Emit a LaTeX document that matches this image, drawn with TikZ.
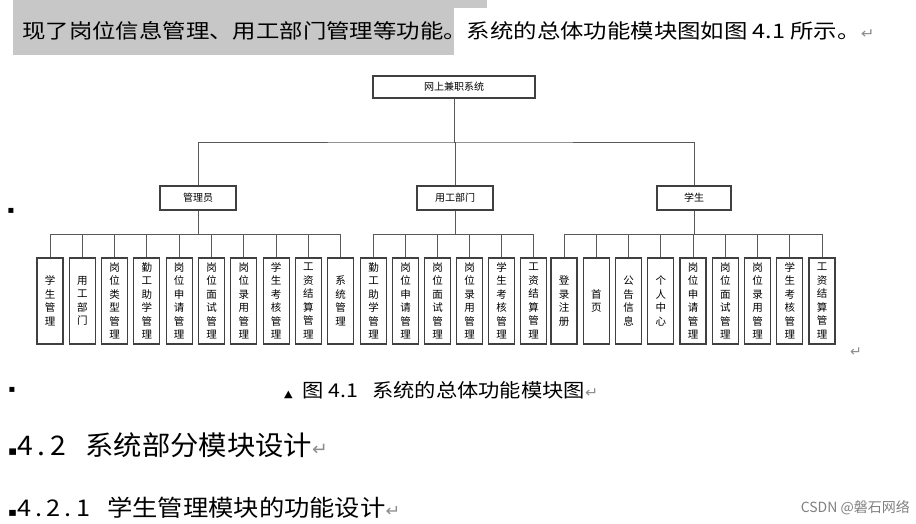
\documentclass[tikz,border=0pt]{standalone}
\usepackage{fontspec}
\setmainfont{Noto Sans CJK SC}
\newfontfamily\dv{DejaVu Sans}
\begin{document}
\begin{tikzpicture}[x=1pt,y=-1pt,
  box/.style={draw=black!75,line width=1.1pt,fill=white,inner sep=0pt,font=\fontsize{10}{12}\selectfont},
  leaf/.style={box,minimum width=26pt,minimum height=86pt,align=center,font=\fontsize{10.5}{13.5}\selectfont},
  conn/.style={draw=black!65,line width=0.9pt}]
\useasboundingbox (0,0) rectangle (916,524);
% highlight
\fill[black!22] (13,0) rectangle (487,8);
\fill[black!22] (13,8) rectangle (454,55);
\node[anchor=west,inner sep=0pt,xscale=1.17,font=\fontsize{20}{24}\selectfont] (para) at (22,31) {现了岗位信息管理、用工部门管理等功能。系统的总体功能模块图如图 4.1 所示。{\dv\color{black!45}\fontsize{14}{16}\selectfont ↵}};
% tree
\node[box,minimum width=162pt,minimum height=22pt] (root) at (454,87) {网上兼职系统};
\node[box,minimum width=76pt,minimum height=24pt] (g1) at (198,198) {管理员};
\node[box,minimum width=76pt,minimum height=24pt] (g2) at (455,198) {用工部门};
\node[box,minimum width=74pt,minimum height=24pt] (g3) at (694,198) {学生};
\coordinate (b) at (454,142);
\draw[conn] (root.south) -- (b);
\draw[conn] (g1.north) |- (b) -| (g3.north);
\draw[conn] (b) -| (g2.north);
\foreach \t [count=\i from 0] in {{学\\生\\管\\理},{用\\工\\部\\门},{岗\\位\\类\\型\\管\\理},{勤\\工\\助\\学\\管\\理},{岗\\位\\申\\请\\管\\理},{岗\\位\\面\\试\\管\\理},{岗\\位\\录\\用\\管\\理},{学\\生\\考\\核\\管\\理},{工\\资\\结\\算\\管\\理},{系\\统\\管\\理}}{
  \node[leaf] (a\i) at (50+32.3*\i,301) {\t};
  \draw[conn] (a\i.north) |- (g1.south|-0,234) -- (g1.south);}
\draw[conn] (a0.north|-0,234) -- (a9.north|-0,234);
\foreach \t [count=\i from 0] in {{勤\\工\\助\\学\\管\\理},{岗\\位\\申\\请\\管\\理},{岗\\位\\面\\试\\管\\理},{岗\\位\\录\\用\\管\\理},{学\\生\\考\\核\\管\\理},{工\\资\\结\\算\\管\\理}}{
  \node[leaf] (c\i) at (373.5+32*\i,301) {\t};
  \draw[conn] (c\i.north) |- (g2.south|-0,234) -- (g2.south);}
\draw[conn] (c0.north|-0,234) -- (c5.north|-0,234);
\foreach \t [count=\i from 0] in {{登\\录\\注\\册},{首\\页},{公\\告\\信\\息},{个\\人\\中\\心},{岗\\位\\申\\请\\管\\理},{岗\\位\\面\\试\\管\\理},{岗\\位\\录\\用\\管\\理},{学\\生\\考\\核\\管\\理},{工\\资\\结\\算\\管\\理}}{
  \node[leaf] (d\i) at (564+32.25*\i,301) {\t};
  \draw[conn] (d\i.north) |- (g3.south|-0,234) -- (g3.south);}
\draw[conn] (d0.north|-0,234) -- (d8.north|-0,234);
% marks
\node[inner sep=0pt,font=\dv\fontsize{14}{16}\selectfont,text=black!45] (ret1) at (856,352) {↵};
\node[inner sep=0pt,font=\dv\fontsize{10}{12}\selectfont] (m1) at (11,211) {▪};
\node[inner sep=0pt,font=\dv\fontsize{10}{12}\selectfont] (m2) at (12,390) {▪};
\node[anchor=west,inner sep=0pt,xscale=1.12,font=\fontsize{19}{22}\selectfont] (cap) at (284,390) {{\dv\fontsize{10}{12}\selectfont ▲}\ \ 图 4.1\ \ \ 系统的总体功能模块图{\dv\color{black!45}\fontsize{14}{16}\selectfont ↵}};
\node[anchor=west,inner sep=0pt,xscale=1.05,font=\fontsize{27}{30}\selectfont] (h1) at (8,445) {{\dv\fontsize{13}{15}\selectfont ▪}4\,.\,2\ \ \ 系统部分模块设计{\dv\color{black!45}\fontsize{18}{20}\selectfont ↵}};
\node[anchor=west,inner sep=0pt,xscale=1.1,font=\fontsize{23}{26}\selectfont] (h2) at (8,508) {{\dv\fontsize{12}{14}\selectfont ▪}4\,.\,2\,.\,1\ \ \ 学生管理模块的功能设计{\dv\color{black!45}\fontsize{16}{18}\selectfont ↵}};
\node[anchor=east,inner sep=0pt,font=\fontsize{14}{16}\selectfont,text=black!50] (wm) at (910,508) {CSDN @磐石网络};
\end{tikzpicture}
\end{document}
